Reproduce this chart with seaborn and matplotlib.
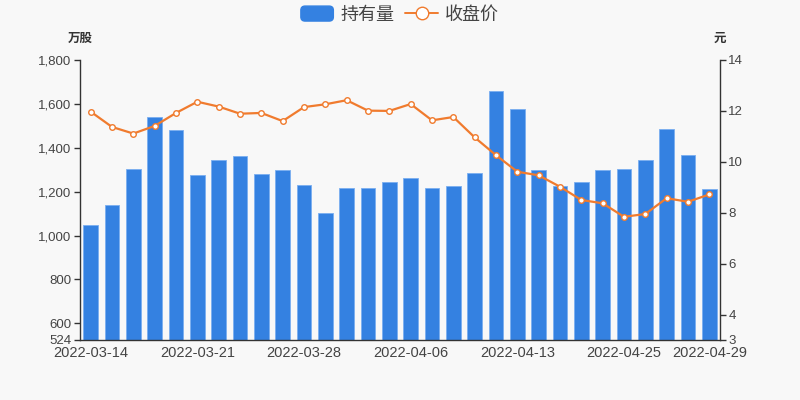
import matplotlib
matplotlib.use("Agg")
import matplotlib.pyplot as plt
import seaborn as sns
from matplotlib.patches import Patch, FancyBboxPatch
from matplotlib.lines import Line2D
from matplotlib.legend_handler import HandlerPatch
from matplotlib.ticker import FuncFormatter, FixedLocator

dates = ["2022-03-14", "2022-03-15", "2022-03-16", "2022-03-17", "2022-03-18",
         "2022-03-21", "2022-03-22", "2022-03-23", "2022-03-24", "2022-03-25",
         "2022-03-28", "2022-03-29", "2022-03-30", "2022-03-31", "2022-04-01",
         "2022-04-06", "2022-04-07", "2022-04-08", "2022-04-11", "2022-04-12",
         "2022-04-13", "2022-04-14", "2022-04-15", "2022-04-21", "2022-04-22",
         "2022-04-25", "2022-04-26", "2022-04-27", "2022-04-28", "2022-04-29"]
holdings = [1048, 1139, 1303, 1542, 1480, 1274, 1344, 1363, 1282, 1299,
            1230, 1101, 1215, 1215, 1243, 1264, 1215, 1224, 1284, 1660,
            1575, 1299, 1227, 1243, 1299, 1303, 1343, 1484, 1366, 1212]
close_price = [11.97, 11.37, 11.11, 11.41, 11.92, 12.36, 12.17, 11.89, 11.92, 11.60,
               12.15, 12.26, 12.42, 12.01, 12.00, 12.27, 11.63, 11.76, 10.96, 10.26,
               9.61, 9.47, 9.02, 8.50, 8.37, 7.84, 7.95, 8.57, 8.43, 8.72]
label_idx = [0, 5, 10, 15, 20, 25, 29]
left_ticks = [524, 600, 800, 1000, 1200, 1400, 1600, 1800]
right_ticks = [3, 4, 6, 8, 10, 12, 14]

bg = "#f8f8f8"
bar_color = "#3481e1"
line_color = "#f07b2e"
text_color = "#444444"
num_font = ['Liberation Sans', 'DejaVu Sans']

sns.set_style("white")
plt.rcParams['font.family'] = ['Noto Sans CJK SC', 'DejaVu Sans']

fig = plt.figure(figsize=(8, 4), dpi=100, facecolor=bg)
ax = fig.add_axes([0.1, 0.15, 0.8, 0.7])
ax.set_facecolor(bg)

x = list(range(len(dates)))
sns.barplot(x=x, y=holdings, color=bar_color, width=0.7, saturation=1,
            edgecolor="#7aaef0", linewidth=0.6, ax=ax)
ax.set_ylim(524, 1800)
ax.set_xlim(-0.5, len(dates) - 0.5)

ax2 = ax.twinx()
sns.lineplot(x=x, y=close_price, color=line_color, linewidth=1.6, marker="o",
             markersize=4, markerfacecolor="white", markeredgecolor=line_color,
             markeredgewidth=1, ax=ax2)
ax2.set_ylim(3, 14)

# axes styling
for a in (ax, ax2):
    a.spines["top"].set_visible(False)
    for s in ("left", "right", "bottom"):
        a.spines[s].set_color("#333333")
        a.spines[s].set_linewidth(1)
ax.spines["right"].set_visible(False)
ax2.spines["left"].set_visible(False)
ax2.spines["bottom"].set_visible(False)

ax.set_yticks(left_ticks)
ax.yaxis.set_major_formatter(FuncFormatter(lambda v, p: f"{int(v):,}"))
ax2.set_yticks(right_ticks)
for a in (ax, ax2):
    a.tick_params(axis="y", length=4, width=1, color="#333333", labelsize=9.5,
                  labelcolor=text_color, pad=2)
    for t in a.get_yticklabels():
        t.set_family(num_font)

# x: tick marks at category boundaries, labels at bar centres
ax.xaxis.set_major_locator(FixedLocator([i - 0.5 for i in label_idx]))
ax.xaxis.set_major_formatter(FuncFormatter(lambda v, p: ""))
ax.xaxis.set_minor_locator(FixedLocator(label_idx))
ax.set_xticklabels([dates[i] for i in label_idx], minor=True, family=num_font)
ax.tick_params(axis="x", which="major", length=4, width=1, color="#333333")
ax.tick_params(axis="x", which="minor", length=0, labelsize=10.5,
               labelcolor=text_color, pad=4.5)
ax.set_xlabel("")
ax.set_ylabel("")
ax2.set_ylabel("")

fig.text(0.1, 0.905, "万股", ha="center", va="center", fontsize=9,
         fontweight="bold", color="#333333")
fig.text(0.9, 0.905, "元", ha="center", va="center", fontsize=9,
         fontweight="bold", color="#333333")


def rounded_patch(legend, orig_handle, xdescent, ydescent, width, height, fontsize):
    return FancyBboxPatch((-xdescent, -ydescent), width, height,
                          boxstyle="round,pad=0,rounding_size=3")


handles = [Patch(facecolor=bar_color, edgecolor=bar_color, label="持有量"),
           Line2D([0], [0], color=line_color, linewidth=1.4, marker="o",
                  markersize=9, markerfacecolor="white",
                  markeredgecolor=line_color, label="收盘价")]
fig.legend(handles=handles, loc="center", bbox_to_anchor=(0.5, 0.963), ncol=2,
           frameon=False, fontsize=13, handlelength=1.8, handleheight=0.9,
           columnspacing=0.6, handletextpad=0.4, labelcolor=text_color,
           handler_map={Patch: HandlerPatch(patch_func=rounded_patch)})

fig.savefig("out.png", dpi=100, facecolor=bg)
